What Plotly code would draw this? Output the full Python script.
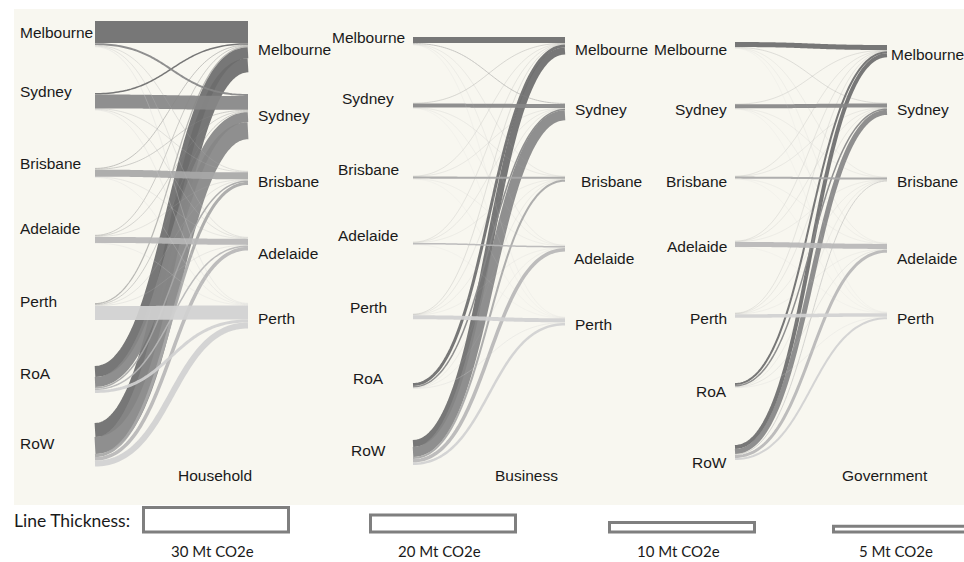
import plotly.graph_objects as go

# ---------------- data (Mt CO2e) ----------------
sources = ["Melbourne", "Sydney", "Brisbane", "Adelaide", "Perth", "RoA", "RoW"]
targets = ["Melbourne", "Sydney", "Brisbane", "Adelaide", "Perth"]
panels = ["Household", "Business", "Government"]

# rows = source region, columns = destination city
household = [
    [29.5, 2.6, 0.9, 0.9, 0.9],
    [2.0, 18.5, 0.9, 0.9, 0.9],
    [1.1, 1.1, 9.3, 0.7, 0.7],
    [0.9, 0.9, 0.7, 8.0, 0.7],
    [1.6, 1.1, 0.7, 0.7, 18.7],
    [14.7, 13.3, 2.0, 2.0, 4.0],
    [18.7, 22.7, 4.0, 4.7, 8.0],
]
business = [
    [8.0, 1.3, 0.5, 0.5, 0.5],
    [0.7, 5.3, 0.5, 0.4, 0.4],
    [0.4, 0.4, 2.7, 0.4, 0.4],
    [0.4, 0.4, 0.4, 2.0, 0.4],
    [0.5, 0.4, 0.4, 0.4, 5.3],
    [4.0, 2.0, 0.4, 0.4, 0.9],
    [9.3, 13.3, 2.7, 4.7, 3.3],
]
government = [
    [6.7, 0.7, 0.4, 0.4, 0.4],
    [0.5, 5.3, 0.4, 0.4, 0.4],
    [0.4, 0.4, 2.7, 0.4, 0.4],
    [0.4, 0.4, 0.4, 6.7, 0.4],
    [0.4, 0.4, 0.4, 0.4, 4.7],
    [2.7, 2.0, 0.4, 0.7, 0.7],
    [5.3, 6.7, 1.3, 4.0, 2.7],
]
flows = {"Household": household, "Business": business, "Government": government}

legend_values = [30, 20, 10, 5]
legend_labels = ["30 Mt CO2e", "20 Mt CO2e", "10 Mt CO2e", "5 Mt CO2e"]

# ---------------- layout / style settings ----------------
W, H = 964, 562
K = 0.75  # pixels of line thickness per Mt CO2e
target_colors = ["#6d6d6d", "#878787", "#a8a8a8", "#b8b8b8", "#d2d2d2"]
FONT = "Liberation Sans, Arial, sans-serif"
TXT = "#1a1a1a"

layout_cfg = {
    "Household": dict(
        x0=95, x1=248,
        src_top=[21, 93, 168, 235, 303, 366, 423],
        tgt_top=[21, 94, 171, 237, 303],
        src_lab_y=[32, 91, 163, 228, 301, 373, 443],
        src_lab_x=18, src_anchor="left",
        tgt_lab_y=[49, 115, 181, 253, 318],
        tgt_lab_x=[256, 256, 256, 256, 256],
        title_x=215,
    ),
    "Business": dict(
        x0=413, x1=565,
        src_top=[37, 103, 176, 242, 314, 383, 440],
        tgt_top=[37, 103, 176, 245, 317],
        src_lab_y=[37, 98, 169, 235, 307, 378, 450],
        src_lab_x=368, src_anchor="center",
        tgt_lab_y=[49, 109, 181, 258, 324],
        tgt_lab_x=[573, 573, 579, 572, 573],
        title_x=526,
    ),
    "Government": dict(
        x0=735, x1=887,
        src_top=[42, 104, 176, 241, 313, 383, 445],
        tgt_top=[45, 103, 177, 243, 312],
        src_lab_y=[49, 109, 181, 246, 318, 391, 462],
        src_lab_x=729, src_anchor="right",
        tgt_lab_y=[54, 109, 181, 258, 318],
        tgt_lab_x=[889, 895, 895, 895, 895],
        title_x=885,
    ),
}
title_y = 475
legend_centers = [216, 443, 682, 906]
legend_label_x = [212, 439, 678, 896]
legend_rect_w = 145
legend_bottom = 532


def bezier(x0, y0, x1, y1, n=80):
    xm = (x0 + x1) / 2.0
    xs, ys = [], []
    for i in range(n + 1):
        t = i / n
        a, b, c, d = (1 - t) ** 3, 3 * (1 - t) ** 2 * t, 3 * (1 - t) * t ** 2, t ** 3
        xs.append(a * x0 + b * xm + c * xm + d * x1)
        ys.append(a * y0 + b * y0 + c * y1 + d * y1)
    return xs, ys


fig = go.Figure()
annotations = []

for p in panels:
    cfg = layout_cfg[p]
    mat = flows[p]
    src_off = [0.0] * len(sources)
    tgt_off = [0.0] * len(targets)
    paths = []
    # stacking: at a source, by destination order; at a destination, by source order
    for si in range(len(sources)):
        for ti in range(len(targets)):
            v = mat[si][ti]
            w = v * K
            ys = cfg["src_top"][si] + src_off[si] + w / 2
            src_off[si] += w
            paths.append((si, ti, v, w, ys))
    tgt_pos = {}
    for ti in range(len(targets)):
        for si in range(len(sources)):
            w = mat[si][ti] * K
            tgt_pos[(si, ti)] = cfg["tgt_top"][ti] + tgt_off[ti] + w / 2
            tgt_off[ti] += w
    # draw lower regions first so upper ones sit on top
    for si in reversed(range(len(sources))):
        for (s, ti, v, w, ys) in paths:
            if s != si:
                continue
            xs_, ys_ = bezier(cfg["x0"], ys, cfg["x1"], tgt_pos[(s, ti)])
            fig.add_trace(go.Scatter(
                x=xs_, y=ys_, mode="lines",
                line=dict(color=target_colors[ti], width=w, simplify=False),
                opacity=0.92 if w >= 1.5 else 0.45,
                hoverinfo="skip", showlegend=False,
            ))
    for si, name in enumerate(sources):
        annotations.append(dict(
            x=cfg["src_lab_x"], y=cfg["src_lab_y"][si], text=name,
            xanchor=cfg["src_anchor"], yanchor="middle", showarrow=False,
            font=dict(family=FONT, size=15.5, color=TXT)))
    for ti, name in enumerate(targets):
        annotations.append(dict(
            x=cfg["tgt_lab_x"][ti], y=cfg["tgt_lab_y"][ti], text=name,
            xanchor="left", yanchor="middle", showarrow=False,
            font=dict(family=FONT, size=15.5, color=TXT)))
    annotations.append(dict(
        x=cfg["title_x"], y=title_y, text=p, xanchor="center", yanchor="middle",
        showarrow=False, font=dict(family=FONT, size=15.5, color=TXT)))

shapes = [dict(type="rect", xref="x", yref="y", x0=14, x1=W, y0=9, y1=505,
               fillcolor="#f8f7f0", line=dict(width=0), layer="below")]

for c, v, lx, lab in zip(legend_centers, legend_values, legend_label_x, legend_labels):
    h = v * K + 2
    shapes.append(dict(type="rect", xref="x", yref="y",
                       x0=c - legend_rect_w / 2, x1=c + legend_rect_w / 2,
                       y0=legend_bottom - h, y1=legend_bottom,
                       fillcolor="white", line=dict(color="#7f7f7f", width=3)))
    annotations.append(dict(x=lx, y=551, text=lab, xanchor="center", yanchor="middle",
                            showarrow=False, font=dict(family="Lato, sans-serif", size=15, color=TXT)))

annotations.append(dict(x=12, y=520, text="Line Thickness:", xanchor="left", yanchor="middle",
                        showarrow=False, font=dict(family="Lato, sans-serif", size=17.5, color=TXT)))

fig.update_layout(
    width=W, height=H,
    margin=dict(l=0, r=0, t=0, b=0, pad=0),
    paper_bgcolor="white", plot_bgcolor="white",
    xaxis=dict(range=[0, W], visible=False, fixedrange=True),
    yaxis=dict(range=[H, 0], visible=False, fixedrange=True),
    shapes=shapes, annotations=annotations, showlegend=False,
)

fig.write_html("out.html")
